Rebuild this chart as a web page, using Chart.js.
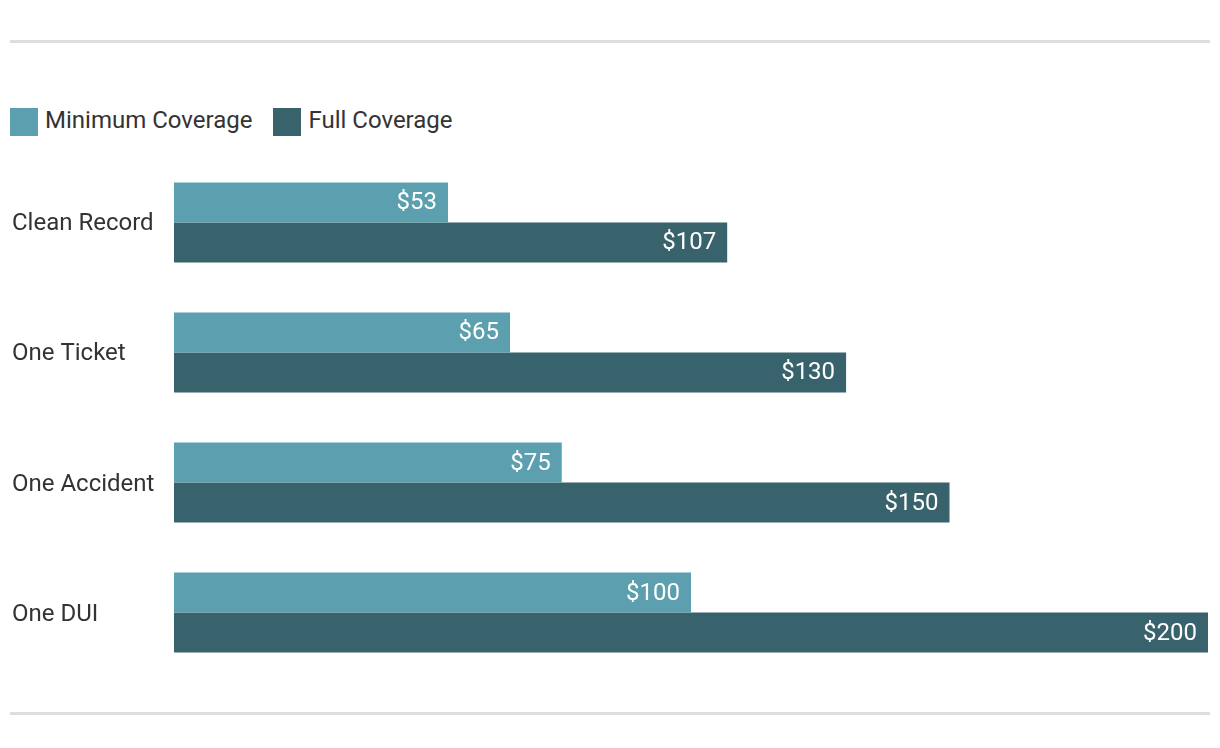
<!DOCTYPE html>
<html>
<head>
<meta charset="utf-8">
<script src="https://cdn.jsdelivr.net/npm/chart.js@4/dist/chart.umd.min.js"></script>
<style>
  html, body { margin: 0; padding: 0; background: #fff; }
  body { width: 1220px; height: 748px; position: relative; overflow: hidden; font-family: Roboto, sans-serif; color: #333; }
  .rule { position: absolute; left: 10px; width: 1200px; height: 3px; background: #dddddd; }
  #legend { position: absolute; left: 10px; top: 108px; display: flex; font-size: 24px; line-height: 28px; }
  #legend .item { display: flex; align-items: center; margin-right: 21px; }
  #legend .box { width: 28px; height: 28px; margin-right: 7px; }
  #legend .txt { position: relative; top: -2px; }
  #wrap { position: absolute; left: 0; top: 143px; width: 1220px; height: 549px; }
</style>
</head>
<body>
<div class="rule" style="top:40px"></div>
<div id="legend"></div>
<div id="wrap"><canvas id="chart"></canvas></div>
<div class="rule" style="top:712px"></div>
<script>
const categories = ['Clean Record', 'One Ticket', 'One Accident', 'One DUI']
const minimumCoverage = [53, 65, 75, 100]
const fullCoverage = [107, 130, 150, 200]
const seriesNames = ['Minimum Coverage', 'Full Coverage']
const seriesColors = ['#5c9fae', '#39636c']

document.addEventListener('DOMContentLoaded', () => {
  // html legend, easier to place than the built-in one
  const legend = document.getElementById('legend')
  seriesNames.forEach((name, i) => {
    const item = document.createElement('div')
    item.className = 'item'
    item.innerHTML = `<span class="box" style="background:${seriesColors[i]}"></span><span class="txt">${name}</span>`
    legend.appendChild(item)
  })

  const valueLabels = {
    id: 'valueLabels',
    afterDatasetsDraw(chart) {
      const ctx = chart.ctx
      ctx.save()
      ctx.font = '24px Roboto'
      ctx.fillStyle = '#ffffff'
      ctx.textAlign = 'right'
      ctx.textBaseline = 'middle'
      chart.data.datasets.forEach((ds, di) => {
        chart.getDatasetMeta(di).data.forEach((bar, i) => {
          ctx.fillText('$' + ds.data[i], bar.x - 11, bar.y + 1)
        })
      })
      ctx.restore()
    }
  }

  new Chart(document.getElementById('chart'), {
    type: 'bar',
    data: {
      labels: categories,
      datasets: [
        { label: seriesNames[0], data: minimumCoverage, backgroundColor: seriesColors[0] },
        { label: seriesNames[1], data: fullCoverage, backgroundColor: seriesColors[1] },
      ]
    },
    options: {
      indexAxis: 'y',
      responsive: true,
      maintainAspectRatio: false,
      animation: false,
      layout: { padding: { left: 12, right: 12, top: 0, bottom: 0 } },
      datasets: { bar: { categoryPercentage: 80 / 130, barPercentage: 1 } },
      plugins: { legend: { display: false }, tooltip: { enabled: false } },
      scales: {
        x: { min: 0, max: 200, display: false },
        y: {
          grid: { display: false },
          border: { display: false },
          afterFit: (scale) => { scale.width = 162 },
          ticks: {
            crossAlign: 'far',
            padding: 0,
            labelOffset: 2,
            color: '#333',
            font: { family: 'Roboto', size: 24 }
          }
        }
      }
    },
    plugins: [valueLabels]
  })
})
</script>
</body>
</html>
